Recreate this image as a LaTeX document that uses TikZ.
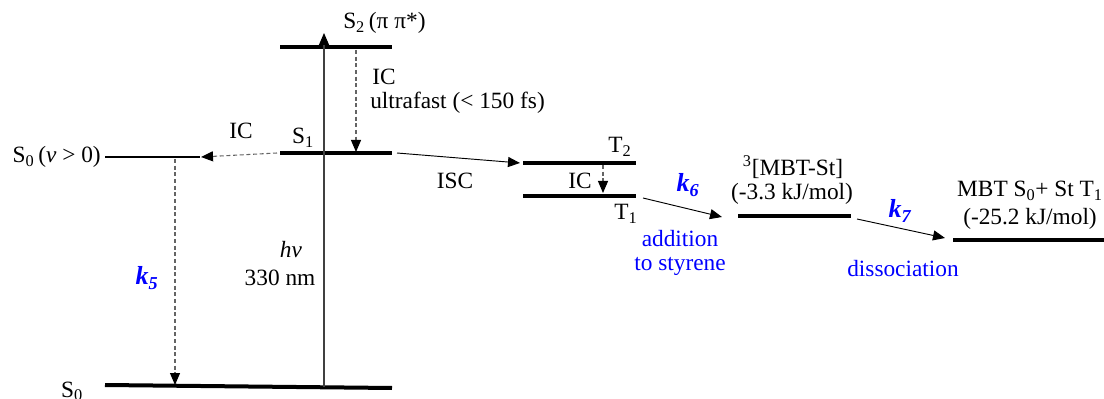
\documentclass[tikz,border=0pt]{standalone}
\usepackage{fontspec}
\newfontfamily\tnr{LiberationSerif}[Extension=.ttf, UprightFont=*-Regular, BoldFont=*-Bold, ItalicFont=*-Italic, BoldItalicFont=*-BoldItalic]
\setmainfont{LiberationSerif}[Extension=.ttf, UprightFont=*-Regular, BoldFont=*-Bold, ItalicFont=*-Italic, BoldItalicFont=*-BoldItalic]
\usetikzlibrary{arrows.meta}
\definecolor{kblue}{RGB}{0,0,255}
\definecolor{dashgray}{RGB}{100,100,100}
\tikzset{
  lvl/.style={line width=3pt},
  thinlvl/.style={line width=1.3pt},
  tip/.style={-{Triangle[length=9pt,width=7.5pt,color=black]}},
  solidarr/.style={tip, line width=0.7pt},
  dasharr/.style={tip, dashgray, dashed, dash pattern=on 3pt off 2pt, line width=0.8pt},
  lab/.style={inner sep=0pt, font=\tnr\fontsize{17.5}{20}\selectfont},
  blab/.style={lab, text=kblue},
  klab/.style={lab, text=kblue, font=\tnr\fontsize{19.5}{20}\selectfont\bfseries\itshape},
}
\begin{document}
\begin{tikzpicture}[x=0.75pt,y=-0.75pt]
\useasboundingbox (0,0) rectangle (1104,399);
% levels
\coordinate (s2l) at (280,47); \coordinate (s2r) at (392,47);
\coordinate (s1l) at (280,153); \coordinate (s1r) at (392,153);
\coordinate (s0l) at (105,385); \coordinate (s0r) at (392,388);
\coordinate (svl) at (105,157); \coordinate (svr) at (200,157);
\coordinate (t2l) at (523,163); \coordinate (t2r) at (636,163);
\coordinate (t1l) at (523,196); \coordinate (t1r) at (636,196);
\coordinate (ml) at (738,216); \coordinate (mr) at (851,216);
\coordinate (fl) at (953,240); \coordinate (fr) at (1104,240);
\draw[lvl] (s2l) -- (s2r);
\draw[lvl] (s1l) -- (s1r);
\draw[lvl] (s0l) -- (s0r);
\draw[thinlvl] (svl) -- (svr);
\draw[lvl] (t2l) -- (t2r);
\draw[lvl] (t1l) -- (t1r);
\draw[lvl] (ml) -- (mr);
\draw[lvl] (fl) -- (fr);
% excitation
\coordinate (hvb) at (324,387); \coordinate (hvt) at (324,33);
\draw[solidarr, draw=black!75, line width=0.8pt] (hvb) -- (hvt);
% IC S2 -> S1
\coordinate (ica) at (356,50); \coordinate (icb) at (356,152);
\draw[dasharr] (ica) -- (icb);
% IC S1 -> S0(v>0)
\coordinate (ic2a) at (277,153); \coordinate (ic2b) at (201,157);
\draw[dasharr] (ic2a) -- (ic2b);
% k5
\coordinate (k5a) at (175,159); \coordinate (k5b) at (175,385);
\draw[dasharr] (k5a) -- (k5b);
% ISC
\coordinate (isca) at (397,153); \coordinate (iscb) at (520,163);
\draw[solidarr] (isca) -- (iscb);
% IC T2 -> T1
\coordinate (ic3a) at (603,165); \coordinate (ic3b) at (603,193);
\draw[dasharr] (ic3a) -- (ic3b);
% k6
\coordinate (k6a) at (643,198); \coordinate (k6b) at (722,217);
\draw[solidarr] (k6a) -- (k6b);
% k7
\coordinate (k7a) at (857,219); \coordinate (k7b) at (945,238);
\draw[solidarr] (k7a) -- (k7b);
% labels
\node[lab, anchor=base west] (s2lab) at (343,29) {S\textsubscript{2}\,(π π*)};
\node[lab] (iclab) at (384,77) {IC};
\node[lab, anchor=west] (ultra) at (370,103) {ultrafast (< 150 fs)};
\node[lab] (s1lab) at (303,138) {S\textsubscript{1}};
\node[lab] (ic2lab) at (241,131) {IC};
\node[lab, anchor=east] (svlab) at (101,157) {S\textsubscript{0}\,(\textit{v} > 0)};
\node[klab] (k5lab) at (147,278) {k\textsubscript{5}};
\node[lab] (hvlab) at (291,250) {\textit{hv}};
\node[lab] (nmlab) at (280,278) {330 nm};
\node[lab, anchor=base] (s0lab) at (72,397) {S\textsubscript{0}};
\node[lab] (isclab) at (455,181) {ISC};
\node[lab] (t2lab) at (620,147) {T\textsubscript{2}};
\node[lab] (t1lab) at (626,214) {T\textsubscript{1}};
\node[lab] (ic3lab) at (580,181) {IC};
\node[klab] (k6lab) at (688,185) {k\textsubscript{6}};
\node[blab] (addlab) at (680,239) {addition};
\node[blab] (stylab) at (680,266) {to styrene};
\node[lab] (mlab) at (793,167) {\textsuperscript{3}[MBT-St]};
\node[lab] (mlab2) at (792,194) {(-3.3 kJ/mol)};
\node[klab] (k7lab) at (900,211) {k\textsubscript{7}};
\node[blab] (dislab) at (903,269) {dissociation};
\node[lab] (flab) at (1030,191) {MBT S\textsubscript{0}+ St T\textsubscript{1}};
\node[lab] (flab2) at (1030,219) {(-25.2 kJ/mol)};
\end{tikzpicture}
\end{document}
